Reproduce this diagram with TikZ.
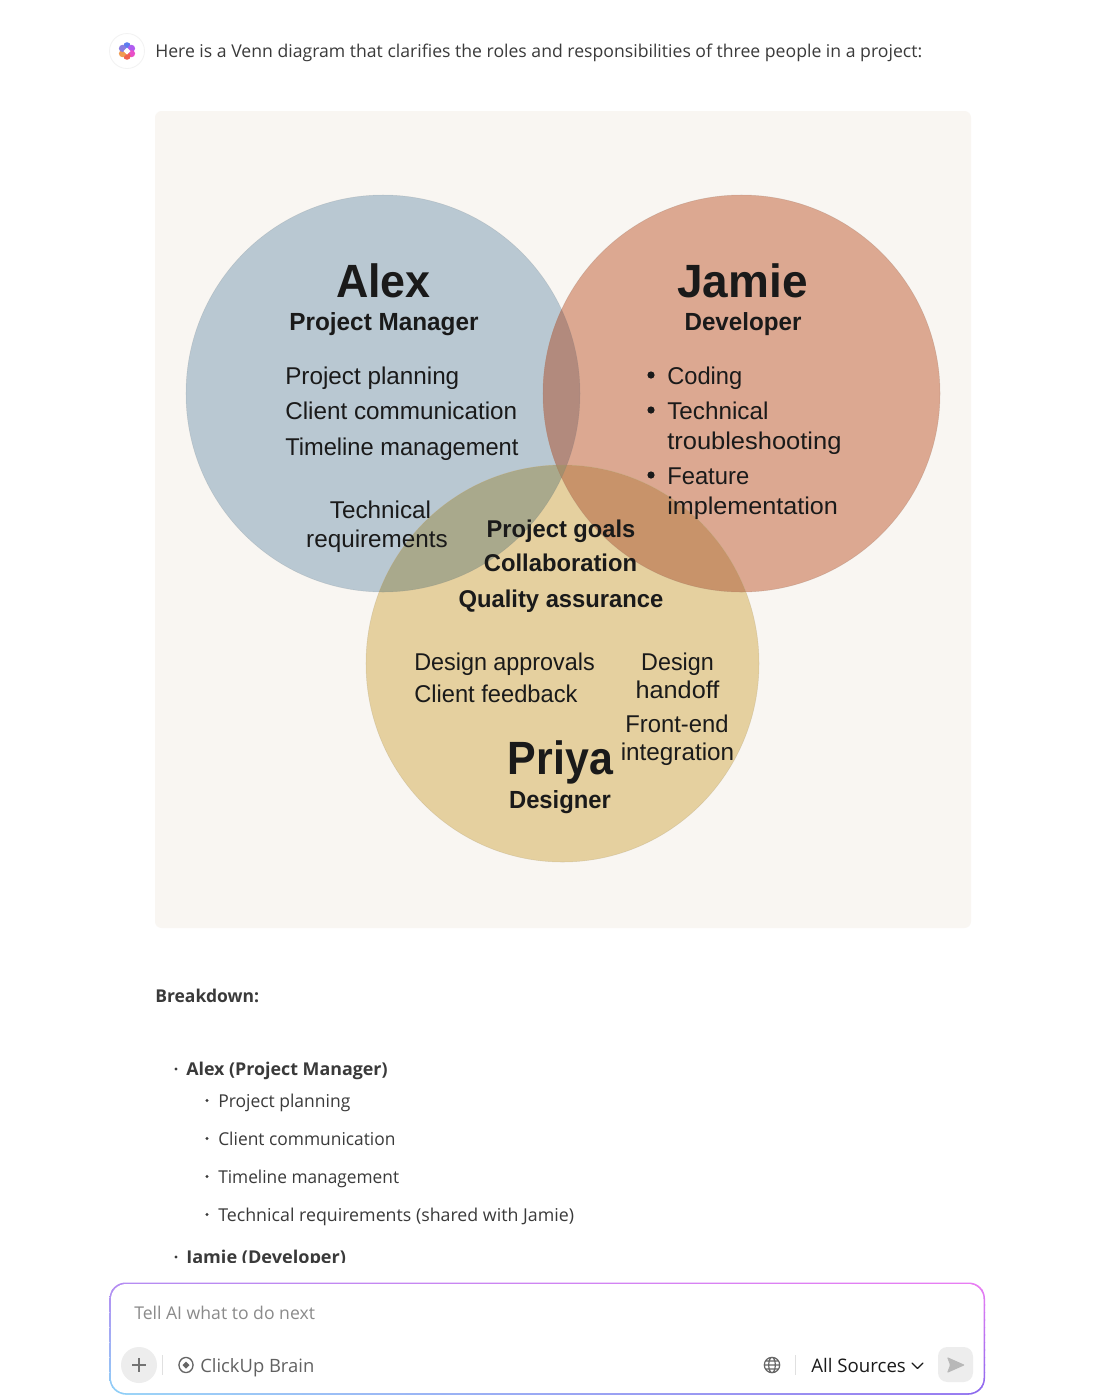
\documentclass[tikz,border=0pt]{standalone}
\usepackage{fontspec}
\setmainfont{Liberation Sans}
\newfontfamily\uif{Open Sans}
\newcommand\xs[2]{\scalebox{#1}[1]{#2}}
\definecolor{panel}{HTML}{F9F6F2}
\definecolor{cblue}{HTML}{B9C8D2}
\definecolor{cred}{HTML}{DCA891}
\definecolor{cyel}{HTML}{E5D09F}
\definecolor{ovbr}{HTML}{B28A7D}
\definecolor{ovby}{HTML}{A9A98C}
\definecolor{ovry}{HTML}{C8936A}
\definecolor{ovall}{HTML}{A68F6C}
\definecolor{ink}{HTML}{1A1A1A}
\definecolor{uitext}{HTML}{3A3A3A}
\definecolor{hint}{HTML}{8A8A8A}
\definecolor{bA}{HTML}{B48CF2}\definecolor{bB}{HTML}{E97DF3}
\definecolor{bC}{HTML}{8DD3F7}\definecolor{bD}{HTML}{8768EE}
\definecolor{fa}{HTML}{5B7CF0}\definecolor{fb}{HTML}{B05CF0}\definecolor{fc}{HTML}{E84FC8}
\definecolor{fd}{HTML}{F0604F}\definecolor{fe}{HTML}{F09A50}\definecolor{ff}{HTML}{8A7CE0}
\tikzset{
  x=0.75pt,y=-0.75pt,
  vtext/.style={text=ink,inner sep=0,anchor=base west,align=left},
  vmid/.style={text=ink,inner sep=0,anchor=base,align=center},
  bigname/.style={vmid,font=\fontsize{35}{35}\selectfont\bfseries},
  rolename/.style={vmid,font=\fontsize{18.6}{18.6}\selectfont\bfseries},
  item/.style={vtext,font=\fontsize{18.2}{18.2}\selectfont},
  itemc/.style={vmid,font=\fontsize{18.2}{18.2}\selectfont},
  shared/.style={vmid,font=\fontsize{18.2}{18.2}\selectfont\bfseries},
  ui/.style={text=uitext,inner sep=0,anchor=base west,font=\fontsize{13.3}{13.3}\selectfont\uif},
  uib/.style={ui,font=\fontsize{13.25}{13.25}\selectfont\uif\bfseries},
}
\begin{document}
\begin{tikzpicture}
\useasboundingbox (0,0) rectangle (1099,1400);
\fill[white] (0,0) rectangle (1099,1400);
% header
\fill[white,draw=black!5,line width=0.6pt] (127,51) circle (17.5);
\foreach \a/\c in {90/fa,30/fb,-30/fc,-90/fd,-150/fe,150/ff}
  \fill[\c] (127,51) ++(\a:3.9pt) circle (3.6);
\fill[white] (127,47.5) -- (130.5,51) -- (127,54.5) -- (123.5,51) -- cycle;
\node[ui,font=\fontsize{13.22}{13.22}\selectfont\uif] (intro) at (155,57.2) {Here is a Venn diagram that clarifies the roles and responsibilities of three people in a project:};
% panel
\fill[panel,rounded corners=5pt] (155,111) rectangle (971,928);
% circles
\coordinate (ca) at (383,393.5);
\coordinate (cj) at (741.5,393.5);
\coordinate (cp) at (562.5,663.5);
\def\ca{(ca) ellipse (197 and 198.5)}
\def\cj{(cj) ellipse (198.5 and 198.5)}
\def\cp{(cp) ellipse (196.5 and 198.5)}
\fill[cblue] \ca;
\fill[cred] \cj;
\fill[cyel] \cp;
\begin{scope}\clip \ca; \fill[ovbr] \cj; \fill[ovby] \cp;
  \clip \cj; \fill[ovall] \cp;\end{scope}
\begin{scope}\clip \cj; \fill[ovry] \cp;
  \clip \ca; \fill[ovall] \cp;\end{scope}
\draw[black!40!cblue,line width=0.4pt,opacity=.2] \ca;
\draw[black!30!cred,line width=0.4pt,opacity=.3] \cj;
\draw[black!25!cyel,line width=0.4pt,opacity=.3] \cp;
% Alex
\node[bigname] (alex) at (383.5,297) {\xs{.96}{Alex}};
\node[rolename] (alexrole) at (384,330) {\xs{.98}{Project Manager}};
\node[item] (a1) at (285,384) {Project planning};
\node[item] (a2) at (285,419.5) {Client communication};
\node[item] (a3) at (285,455) {\xs{.975}{Timeline management}};
\node[itemc] (t1) at (380.5,518.5) {Technical};
\node[itemc] (t2) at (377,547.5) {requirements};
% Jamie
\node[bigname] (jamie) at (742.5,297) {\xs{.985}{Jamie}};
\node[rolename] (jamierole) at (743,330) {\xs{.975}{Developer}};
\foreach \y in {375,410,475} \fill[ink] (651,\y) circle (3.6);
\node[item] (j1) at (667,384) {\xs{.975}{Coding}};
\node[item] (j2) at (667,419.5) {Technical};
\node[item] (j3) at (667,449) {\xs{1.05}{troubleshooting}};
\node[item] (j4) at (667,484) {\xs{.98}{Feature}};
\node[item] (j5) at (667,514) {\xs{1.037}{implementation}};
% centre
\node[shared] (s1) at (561,537.5) {\xs{.975}{Project goals}};
\node[shared] (s2) at (560.5,571.5) {\xs{.98}{Collaboration}};
\node[shared] (s3) at (561,607.5) {\xs{.98}{Quality assurance}};
% Priya
\node[item] (p1) at (414,670.5) {\xs{.963}{Design approvals}};
\node[item] (p2) at (414,702.5) {\xs{.976}{Client feedback}};
\node[itemc] (d1) at (677.5,670.5) {\xs{.96}{Design}};
\node[itemc] (d2) at (677.5,698.5) {\xs{1.04}{handoff}};
\node[itemc] (d3) at (677,732) {\xs{.98}{Front-end}};
\node[itemc] (d4) at (677.5,760.5) {integration};
\node[bigname] (priya) at (560.5,774.5) {\xs{.92}{Priya}};
\node[rolename] (priyarole) at (560,808) {\xs{.96}{Designer}};
% breakdown
\node[uib] (bd) at (155,1002) {\xs{.99}{Breakdown:}};
\foreach \x/\y in {176/1069,207/1100.5,207/1138.5,207/1176.5,207/1214.5} \fill[uitext] (\x,\y) circle (1.6);
\node[uib] (b1) at (186,1075) {\xs{1.01}{Alex (Project Manager)}};
\node[ui] (b2) at (218,1107) {\xs{.985}{Project planning}};
\node[ui] (b3) at (218,1145) {\xs{.98}{Client communication}};
\node[ui] (b4) at (218,1183) {\xs{.975}{Timeline management}};
\node[ui] (b5) at (218,1221) {\xs{1.003}{Technical requirements (shared with Jamie)}};
\begin{scope}
\clip (150,1240) rectangle (400,1262);
\fill[uitext] (176,1257) circle (1.6);
\node[uib] (b6) at (186,1263.5) {\xs{1.025}{Jamie (Developer)}};
\end{scope}
% prompt box
\begin{scope}
\clip[rounded corners=12pt] (109.5,1282.5) rectangle (985,1394.5);
\foreach \i in {0,...,15}{
  \pgfmathtruncatemacro{\p}{100-\i*100/15}
  \colorlet{sl}{bA!\p!bC}\colorlet{sr}{bB!\p!bD}
  \shade[left color=sl,right color=sr] (109,1282+\i*7.5) rectangle (986,1282+\i*7.5+8);
}
\end{scope}
\fill[white,rounded corners=11.4pt] (111,1284) rectangle (983.5,1393);
\node[ui,text=hint,font=\fontsize{13.2}{13.2}\selectfont\uif] (tell) at (134,1319) {Tell AI what to do next};
\fill[black!7] (139,1365) circle (18);
\draw[black!55,line width=1.1pt] (132,1365) -- (146,1365) (139,1358) -- (139,1372);
\draw[black!12,line width=0.7pt] (162,1355) -- (162,1375);
\draw[black!60,line width=1pt,rounded corners=2.5pt] (178,1365) -- (182,1357.5) -- (190,1357.5) -- (194,1365) -- (190,1372.5) -- (182,1372.5) -- cycle;
\fill[black!60] (186,1361.5) -- (189.5,1365) -- (186,1368.5) -- (182.5,1365) -- cycle;
\node[ui,text=black!62,font=\fontsize{13.8}{13.8}\selectfont\uif] (cub) at (200,1372) {ClickUp Brain};
\draw[black!60,line width=0.9pt] (772,1365) circle (7.7) (772,1365) ellipse (3.3 and 7.7) (764.3,1365) -- (779.7,1365) (765.5,1361) -- (778.5,1361) (765.5,1369) -- (778.5,1369);
\draw[black!12,line width=0.7pt] (795,1355) -- (795,1375);
\node[ui,text=ink,font=\fontsize{14}{14}\selectfont\uif] (src) at (811,1372) {All Sources};
\draw[ink,line width=1pt,line cap=round,line join=round] (912,1363) -- (917.5,1368.5) -- (923,1363);
\fill[black!7,rounded corners=7pt] (938,1347) rectangle (973,1382);
\fill[black!28,rounded corners=0.8pt] (947,1357) -- (965,1365) -- (947,1373) -- (950,1365) -- cycle;
\end{tikzpicture}
\end{document}
